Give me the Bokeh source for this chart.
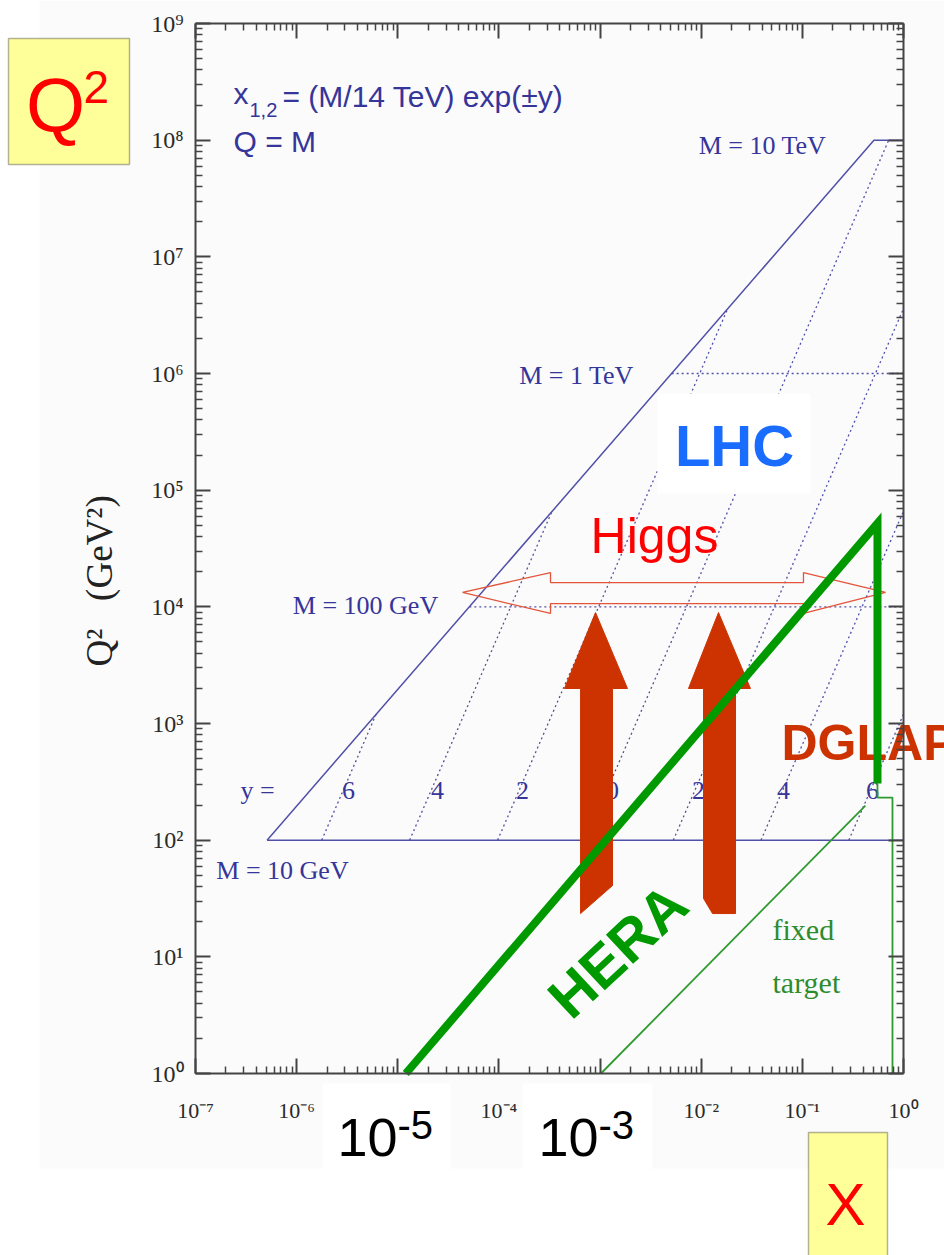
import numpy as np
from bokeh.plotting import figure
from bokeh.models import Range1d, FixedTicker, LogAxis, Label, BoxAnnotation
from bokeh.core.properties import value
from bokeh.embed import file_html
from bokeh.resources import INLINE

# ---------------- data ----------------
x_major = [1e-7, 1e-6, 1e-5, 1e-4, 1e-3, 1e-2, 1e-1, 1e0]
x_tick_labels = ["10⁻⁷", "10⁻⁶", " ", "10⁻⁴", " ", "10⁻²", "10⁻¹", "10⁰"]
y_major = [1e0, 1e1, 1e2, 1e3, 1e4, 1e5, 1e6, 1e7, 1e8, 1e9]
y_tick_labels = ["10⁰", "10¹", "10²", "10³", "10⁴", "10⁵", "10⁶", "10⁷", "10⁸", "10⁹"]

# LHC kinematic edge (Q^2 = x s) and M = 10 TeV cap
edge_x = [5.1e-7, 0.51, 1.0]
edge_q2 = [1e2, 1e8, 1e8]
# M = 10 GeV (solid)
m10_x = [5.1e-7, 1.0]
m10_q2 = [1e2, 1e2]
# M = 100 GeV, 1 TeV (dotted)
mdot_x_start = [5.1e-5, 5.1e-3]
mdot_q2 = [1e4, 1e6]
mass_labels = ["M = 10 GeV", "M = 100 GeV", "M = 1 TeV", "M = 10 TeV"]

# constant-rapidity lines
rap_labels = ["6", "4", "2", "0", "2", "4", "6"]
rap_x_lo = [1.77e-6, 1.31e-5, 9.7e-5, 7.14e-4, 5.3e-3, 0.039, 0.288]
rap_q2_lo = [1e2, 1e2, 1e2, 1e2, 1e2, 1e2, 1e2]
rap_x_hi = [6.1e-6, 3.35e-4, 0.0183, 0.714, 1.0, 1.0, 1.0]
rap_q2_hi = [1.2e3, 6.6e4, 3.6e6, 1e8, 3.6e6, 6.6e4, 1.2e3]

# HERA (thick green) and fixed target (thin green)
hera_x = [1.2e-5, 0.553, 0.553]
hera_q2 = [1.0, 5.2e4, 306.0]
ft_x = [1.02e-3, 0.42]
ft_q2 = [1.0, 198.0]
ft_step_x = [0.553, 0.553, 0.778, 0.778]
ft_step_q2 = [306.0, 232.0, 232.0, 1.0]

# DGLAP arrows (log10 x, log10 Q^2)
arrow1_lx = [-3.045, -2.729, -2.877, -2.877, -3.193, -3.193, -3.352]
arrow1_lq = [3.951, 3.300, 3.300, 1.611, 1.371, 3.300, 3.300]
arrow2_lx = [-1.829, -1.513, -1.661, -1.661, -1.888, -1.977, -1.977, -2.126]
arrow2_lq = [3.951, 3.300, 3.300, 1.371, 1.371, 1.500, 3.300, 3.300]
# Higgs double arrow (log10 x, log10 Q^2)
higgs_lx = [-4.360, -3.490, -3.490, -0.989, -0.989, -0.178, -0.989, -0.989, -3.490, -3.490, -4.360]
higgs_lq = [4.123, 4.294, 4.208, 4.208, 4.294, 4.123, 3.943, 4.028, 4.028, 3.943, 4.123]

# ---------------- figure ----------------
W, H = 944, 1255
FL, FR, FT, FB = 195, 903, 23, 1073   # where the axes sit on the page


def px2x(cx):
    return 10 ** (-7 + (cx - FL) / ((FR - FL) / 7.0))


def px2y(cy):
    return 10 ** ((FB - cy) / ((FB - FT) / 9.0))


p = figure(width=W, height=H, x_axis_type="log", y_axis_type="log",
           x_axis_location=None, y_axis_location=None,
           x_range=Range1d(px2x(0), px2x(W)), y_range=Range1d(px2y(H), px2y(0)),
           toolbar_location=None, output_backend="svg",
           min_border=0, min_border_left=0, min_border_right=0,
           min_border_top=0, min_border_bottom=0)
p.grid.visible = False
p.outline_line_color = None
p.background_fill_color = "white"
p.border_fill_color = "white"


def minor(majors):
    out = []
    for m in majors[:-1]:
        out += [m * k for k in range(2, 10)]
    return out


def make_axis(majors, loc, bounds, labels, size="22px"):
    ax = LogAxis(ticker=FixedTicker(ticks=majors, minor_ticks=minor(majors)),
                 fixed_location=loc, bounds=bounds)
    ax.axis_line_width = 2
    ax.axis_line_color = "#444444"
    ax.major_tick_in = 15
    ax.major_tick_out = 0
    ax.minor_tick_in = 7
    ax.minor_tick_out = 0
    ax.major_tick_line_width = 2
    ax.major_tick_line_color = "#444444"
    ax.minor_tick_line_width = 1.5
    ax.minor_tick_line_color = "#444444"
    ax.major_label_text_font = "Liberation Serif"
    ax.major_label_text_color = "#2a2a2a"
    ax.major_label_text_font_size = size
    if labels is None:
        labels = [" "] * len(majors)
        ax.major_label_standoff = 0
    ax.major_label_overrides = {t: l for t, l in zip(majors, labels)}
    return ax


# background panels of the pasted figure
p.add_layout(BoxAnnotation(left=px2x(39), right=px2x(W), top=px2y(0), bottom=px2y(1168),
                           fill_color="#fbfbfb", fill_alpha=1.0, line_color=None, level="underlay"))
for a, b in [(322, 450), (522, 652)]:
    p.add_layout(BoxAnnotation(left=px2x(a), right=px2x(b), top=px2y(1083), bottom=px2y(1168),
                               fill_color="white", fill_alpha=1.0, line_color=None, level="underlay"))

bx = make_axis(x_major, 1.0, (1e-7, 1.0), x_tick_labels)
bx.major_label_standoff = 24
p.add_layout(bx, "below")

ly = make_axis(y_major, 1e-7, (1.0, 1e9), y_tick_labels, size="24px")
ly.major_label_standoff = 12
ly.axis_label = "Q²\u00a0\u00a0\u00a0(GeV²)" + "\u00a0" * 7
ly.axis_label_text_font = "Liberation Serif"
ly.axis_label_text_font_size = "37px"
ly.axis_label_text_font_style = "normal"
ly.axis_label_text_color = "#222222"
ly.axis_label_standoff = 28
p.add_layout(ly, "left")

p.add_layout(make_axis(x_major, 1e9, (1e-7, 1.0), None), "above")
p.add_layout(make_axis(y_major, 1.0, (1.0, 1e9), None), "right")

# ---------------- lines ----------------
BLUE_L = "#5050a8"
TXT_BLUE = "#35359a"
SERIF = "Liberation Serif"
SANS = "Liberation Sans"
ORANGE = "#cc3300"
GREEN = "#009a00"

p.line(edge_x, edge_q2, line_color=BLUE_L, line_width=1.5)
p.line(m10_x, m10_q2, line_color=BLUE_L, line_width=1.5)
for xs, q in zip(mdot_x_start, mdot_q2):
    p.line([xs, 1.0], [q, q], line_color=BLUE_L, line_width=1.3, line_dash="2 3")
p.multi_line([[a, b] for a, b in zip(rap_x_lo, rap_x_hi)],
             [[a, b] for a, b in zip(rap_q2_lo, rap_q2_hi)],
             line_color=BLUE_L, line_width=1.3, line_dash="2 3")

# rapidity labels (drawn beneath the arrows)
rap_px = [348, 437, 522, 612, 698, 783, 872]
p.text([px2x(c) for c in [257] + rap_px], [px2y(790)] * 8, text=["y ="] + rap_labels,
       text_font=value(SERIF), text_font_size="26px", text_color=TXT_BLUE,
       text_align="center", text_baseline="middle")

# DGLAP (beneath the green line)
p.text([px2x(781)], [px2y(742)], text=["DGLAP"], text_font=value(SANS),
       text_font_size="50px", text_font_style="bold", text_color=ORANGE,
       text_align="left", text_baseline="middle")

# Higgs double arrow (outline)
p.line(10 ** np.array(higgs_lx), 10 ** np.array(higgs_lq), line_color="#e2553a", line_width=1.3)

# DGLAP arrows
p.patch(10 ** np.array(arrow1_lx), 10 ** np.array(arrow1_lq), fill_color=ORANGE, line_color=ORANGE)
p.patch(10 ** np.array(arrow2_lx), 10 ** np.array(arrow2_lq), fill_color=ORANGE, line_color=ORANGE)

# green lines
p.line(ft_x, ft_q2, line_color="#2f9a2f", line_width=1.8)
p.line(ft_step_x, ft_step_q2, line_color="#2f9a2f", line_width=1.8)
p.line(hera_x, hera_q2, line_color=GREEN, line_width=8, line_join="miter")

# ---------------- annotations ----------------
p.add_layout(BoxAnnotation(left=px2x(657), right=px2x(810), top=px2y(393), bottom=px2y(493),
                           fill_color="white", fill_alpha=1.0, line_color=None))


def lab(cx, cy, text, size, color, font, align="center", style="normal", angle=0):
    p.add_layout(Label(x=px2x(cx), y=px2y(cy), text=text, text_font_size=f"{size}px",
                       text_color=color, text_font=font, text_align=align,
                       text_baseline="middle", text_font_style=style,
                       angle=angle, angle_units="deg"))


lab(233, 93, "x", 30, TXT_BLUE, SANS, align="left")
lab(249, 109, "1,2", 20, TXT_BLUE, SANS, align="left")
lab(282, 96, "= (M/14 TeV) exp(±y)", 30, TXT_BLUE, SANS, align="left")
lab(233, 141, "Q = M", 30, TXT_BLUE, SANS, align="left")

lab(282, 870, mass_labels[0], 26, TXT_BLUE, SERIF)
lab(365, 605, mass_labels[1], 26, TXT_BLUE, SERIF)
lab(576, 375, mass_labels[2], 26, TXT_BLUE, SERIF)
lab(762, 145, mass_labels[3], 26, TXT_BLUE, SERIF)

lab(772, 929, "fixed", 30, "#2e8b2e", SERIF, align="left")
lab(772, 982, "target", 30, "#2e8b2e", SERIF, align="left")

lab(734, 445, "LHC", 58, "#1a6cff", SANS, style="bold")
lab(654, 535, "Higgs", 50, "#ff0000", SANS)
lab(617, 950, "HERA", 58, GREEN, SANS, style="bold", angle=43)

# boxes outside the axes
p.add_layout(BoxAnnotation(left=px2x(8), right=px2x(129), top=px2y(38), bottom=px2y(164),
                           fill_color="#ffff99", fill_alpha=1.0, line_color="black", line_width=1.5))
lab(55, 104, "Q", 76, "#ff0000", SANS)
lab(83, 86, "2", 46, "#ff0000", SANS, align="left")

p.add_layout(BoxAnnotation(left=px2x(808), right=px2x(887), top=px2y(1132), bottom=px2y(1300),
                           fill_color="#ffff99", fill_alpha=1.0, line_color="black", line_width=1.5))
lab(845, 1204, "X", 60, "#ff0000", SANS)

lab(397, 1137, "10", 54, "black", SANS, align="right")
lab(397, 1124, "-5", 40, "black", SANS, align="left")
lab(598, 1137, "10", 54, "black", SANS, align="right")
lab(598, 1124, "-3", 40, "black", SANS, align="left")

open("out.html", "w").write(file_html(p, INLINE))
